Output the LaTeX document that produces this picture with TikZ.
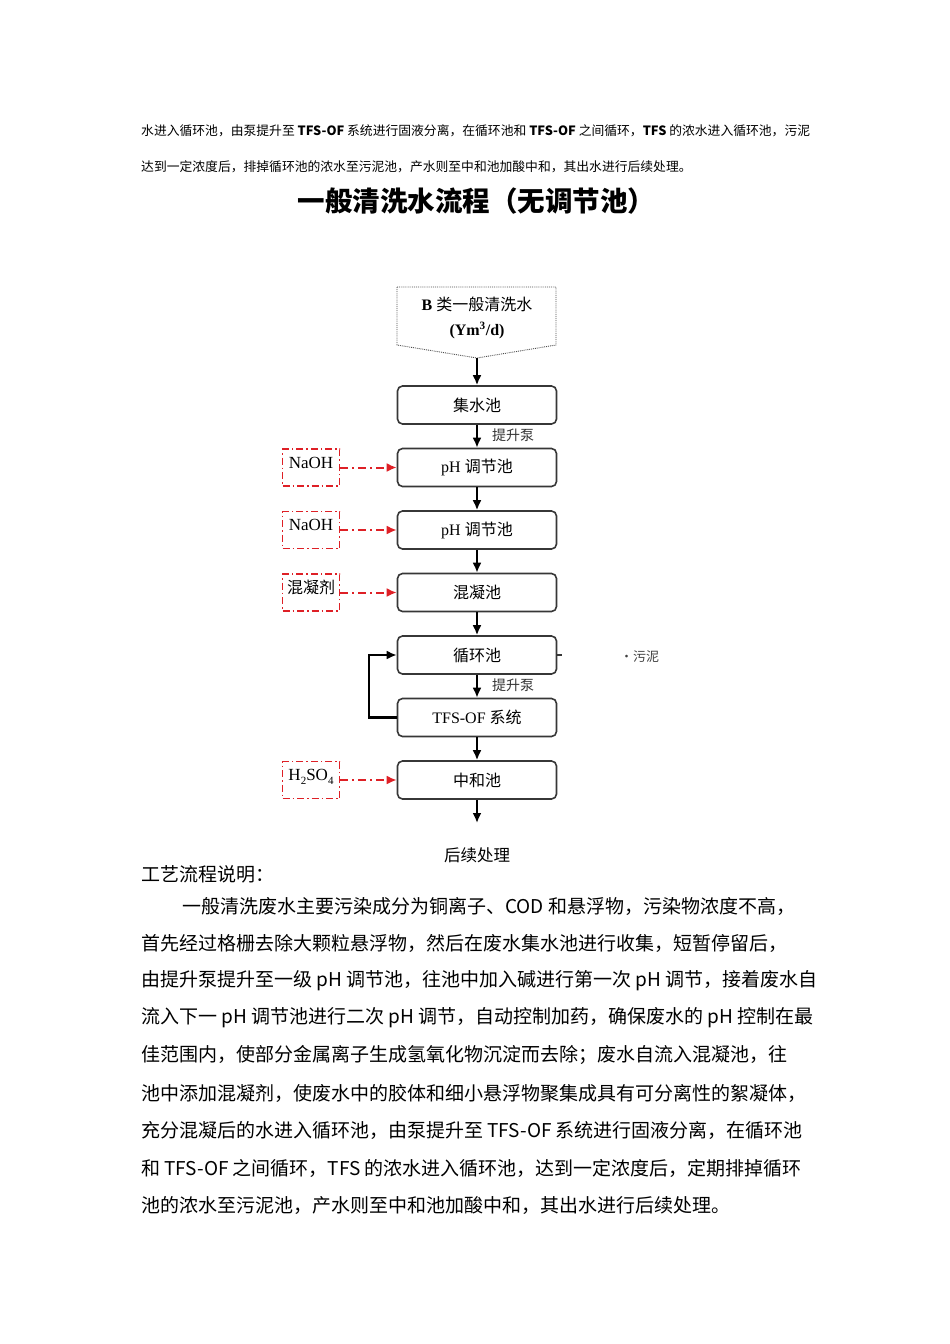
\documentclass[tikz,border=0pt]{standalone}
\usepackage{fontspec}
\setmainfont{Liberation Serif}
\newfontfamily\cjk{Noto Sans CJK SC}
\usetikzlibrary{arrows.meta}
\usetikzlibrary{positioning}
\definecolor{dosered}{RGB}{222,32,38}
\definecolor{boxgray}{RGB}{55,55,55}
\newcommand{\lowsub}[1]{\raisebox{-4pt}{\fontsize{11}{11}\selectfont #1}}
\tikzstyle{every node}+=[inner sep=0pt]
\tikzstyle{block} = [rectangle, draw=boxgray, line width=1.6pt, rounded corners=5pt, text centered, minimum height=38pt, minimum width=159pt, font=\fontsize{16}{18}\selectfont, node distance=62.5pt]
\tikzstyle{dose} = [rectangle, draw=dosered, line width=1.2pt, dash pattern=on 7pt off 3pt on 1.5pt off 3pt, minimum height=37pt, minimum width=57pt, text height=11pt, text depth=10pt, font=\fontsize{17}{19}\selectfont, node distance=166pt]
\tikzstyle{line} = [draw, line width=2.2pt, -{Latex[length=10pt,width=9pt]}]
\tikzstyle{feed} = [draw=dosered, line width=2pt, dash pattern=on 8pt off 4pt on 2pt off 4pt, -{Latex[length=10pt,width=9pt]}]
\tikzstyle{pump} = [font=\cjk\fontsize{14}{16}\selectfont, text=black!80]
\tikzstyle{para} = [anchor=west, font=\cjk\fontsize{19}{21}\selectfont]
\tikzstyle{note} = [anchor=west, font=\cjk\fontsize{12.8}{14}\selectfont]

\begin{document}
\begin{tikzpicture}[x=1pt, y=-1pt]
            \useasboundingbox (0,0) rectangle (950,1344);
            % Text above the chart
            \node [note] (top1) at (141,131) {水进入循环池，由泵提升至 \textbf{TFS-OF} 系统进行固液分离，在循环池和 \textbf{TFS-OF} 之间循环，\textbf{TFS} 的浓水进入循环池，污泥};
            \node [note] (top2) at (141,167) {达到一定浓度后，排掉循环池的浓水至污泥池，产水则至中和池加酸中和，其出水进行后续处理。};
            \node [font=\cjk\bfseries\fontsize{27.5}{29}\selectfont] (title) at (476.5,201) {一般清洗水流程（无调节池）};
            % Source
            \draw [draw=black!70, line width=0.9pt, densely dotted] (397,287) -- (556,287) -- (556,345) -- (477,358) -- (397,345) -- cycle;
            \coordinate (srctip) at (477,358);
            \node [align=center, font=\fontsize{16}{25}\selectfont] (src) at (477,318) {\textbf{B} {\cjk 类一般清洗水}\\\textbf{(Ym\textsuperscript{3}/d)}};
            % Place nodes
            \node [block] (collect) at (477,405) {\cjk 集水池};
            \node [block, below of=collect] (ph1) {pH {\cjk 调节池}};
            \node [block, below of=ph1] (ph2) {pH {\cjk 调节池}};
            \node [block, below of=ph2] (coag) {\cjk 混凝池};
            \node [block, below of=coag] (circ) {\cjk 循环池};
            \node [block, below of=circ] (tfs) {TFS-OF {\cjk 系统}};
            \node [block, below of=tfs] (neut) {\cjk 中和池};
            \node [dose, left of=ph1] (naoh1) {NaOH};
            \node [dose, left of=ph2] (naoh2) {NaOH};
            \node [dose, left of=coag] (pac) {\cjk\fontsize{16}{18}\selectfont 混凝剂};
            \node [dose, left of=neut] (acid) {H\lowsub{2}SO\lowsub{4}};
            \coordinate (outlet) at (477,823);
            \node [font=\cjk\fontsize{16.5}{18}\selectfont] (post) at (477,855) {后续处理};
            \coordinate (sludgestub) at (562,655);
            \node [font=\cjk\fontsize{13}{15}\selectfont, text=black!75, anchor=west] (sludge) at (620,657) {•污泥};
            % Draw edges
            \path [line] (srctip) -- (collect);
            \path [line] (collect) -- node [pump, right, xshift=14pt, yshift=1pt] {提升泵} (ph1);
            \path [line] (ph1) -- (ph2);
            \path [line] (ph2) -- (coag);
            \path [line] (coag) -- (circ);
            \path [line] (circ) -- node [pump, right, xshift=14pt, yshift=1pt] {提升泵} (tfs);
            \path [line] (tfs) -- (neut);
            \path [line] (neut) -- (outlet);
            \path [line] (tfs.west) -- ++(-28,0) |- (circ.west);
            \draw [line width=1.2pt, draw=boxgray] (circ.east) -- (sludgestub);
            \path [feed] (naoh1) -- (ph1);
            \path [feed] (naoh2) -- (ph2);
            \path [feed] (pac) -- (coag);
            \path [feed] (acid) -- (neut);
            % Description
            \node [para] (d0) at (141,874) {工艺流程说明：};
            \node [para] (d1) at (182,906) {一般清洗废水主要污染成分为铜离子、COD 和悬浮物，污染物浓度不高，};
            \node [para] (d2) at (141,943) {首先经过格栅去除大颗粒悬浮物，然后在废水集水池进行收集，短暂停留后，};
            \node [para] (d3) at (141,981) {由提升泵提升至一级 pH 调节池，往池中加入碱进行第一次 pH 调节，接着废水自};
            \node [para] (d4) at (141,1018) {流入下一 pH 调节池进行二次 pH 调节，自动控制加药，确保废水的 pH 控制在最};
            \node [para] (d5) at (141,1055) {佳范围内，使部分金属离子生成氢氧化物沉淀而去除；废水自流入混凝池，往};
            \node [para] (d6) at (141,1093) {池中添加混凝剂，使废水中的胶体和细小悬浮物聚集成具有可分离性的絮凝体，};
            \node [para] (d7) at (141,1130) {充分混凝后的水进入循环池，由泵提升至 TFS-OF 系统进行固液分离，在循环池};
            \node [para] (d8) at (141,1168) {和 TFS-OF 之间循环，TFS 的浓水进入循环池，达到一定浓度后，定期排掉循环};
            \node [para] (d9) at (141,1205) {池的浓水至污泥池，产水则至中和池加酸中和，其出水进行后续处理。};
          \end{tikzpicture}
\end{document}
